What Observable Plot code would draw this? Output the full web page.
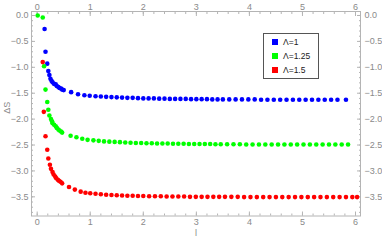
<!DOCTYPE html>
<html><head><meta charset="utf-8">
<script src="https://cdn.jsdelivr.net/npm/d3@7"></script>
<script src="https://cdn.jsdelivr.net/npm/@observablehq/plot@0.6"></script>
<style>
body{margin:0;background:#fff;}
#wrap{position:relative;width:382px;height:241px;}
#legend{position:absolute;left:263px;top:33px;width:56px;height:46px;border:1px solid #555;background:#fff;box-sizing:border-box;font-family:"Liberation Sans",sans-serif;font-size:8.5px;color:#222;}
.sw{position:absolute;left:8px;width:6px;height:6px;}
.lt{position:absolute;left:19px;line-height:10px;white-space:nowrap;}
</style>
</head><body>
<div id="wrap"><div id="legend"></div></div>
<script>
// Series: [l, ΔS]
const lambda1 = [
 [0.14,-0.26],[0.157,-0.70],[0.19,-0.93],[0.21,-1.07],[0.23,-1.15],[0.25,-1.22],[0.27,-1.26],[0.29,-1.29],
 [0.32,-1.32],[0.35,-1.33],[0.37,-1.36],[0.40,-1.38],[0.42,-1.40],[0.45,-1.41],[0.47,-1.43],[0.50,-1.44],
 [0.64,-1.48],[0.77,-1.52],[0.89,-1.54],[0.99,-1.55],
 [1.10,-1.56],[1.20,-1.565],[1.30,-1.57],[1.40,-1.575],[1.50,-1.58],[1.60,-1.585],[1.70,-1.59],[1.80,-1.59],
 [1.90,-1.595],[2.00,-1.60],[2.10,-1.60],[2.20,-1.60],[2.30,-1.605],[2.40,-1.605],[2.50,-1.61],[2.60,-1.61],
 [2.70,-1.61],[2.80,-1.61],[2.90,-1.615],[3.00,-1.615],[3.10,-1.615],[3.20,-1.615],[3.30,-1.62],[3.40,-1.62],
 [3.50,-1.62],[3.62,-1.62],[3.74,-1.62],[3.86,-1.62],[3.98,-1.62],[4.10,-1.62],[4.22,-1.625],[4.34,-1.625],
 [4.46,-1.625],[4.58,-1.625],[4.70,-1.625],[4.82,-1.625],[4.94,-1.625],[5.06,-1.625],[5.18,-1.625],[5.30,-1.625],
 [5.42,-1.625],[5.54,-1.625],[5.66,-1.625],[5.82,-1.625]
];
const lambda125 = [
 [0.01,0.0],[0.105,-0.04],[0.13,-0.98],[0.157,-1.43],[0.19,-1.67],[0.21,-1.82],[0.23,-1.93],[0.26,-2.00],
 [0.28,-2.04],[0.29,-2.08],[0.32,-2.11],[0.35,-2.14],[0.37,-2.17],[0.40,-2.20],[0.42,-2.22],[0.45,-2.24],
 [0.47,-2.26],[0.63,-2.32],[0.74,-2.35],[0.85,-2.38],[0.95,-2.40],
 [1.06,-2.41],[1.16,-2.42],[1.26,-2.43],[1.36,-2.435],[1.46,-2.44],[1.56,-2.445],[1.66,-2.45],[1.76,-2.455],
 [1.86,-2.46],[1.96,-2.46],[2.06,-2.465],[2.16,-2.465],[2.26,-2.47],[2.36,-2.47],[2.46,-2.47],[2.56,-2.475],
 [2.66,-2.475],[2.76,-2.475],[2.86,-2.48],[2.96,-2.48],[3.06,-2.48],[3.16,-2.48],[3.26,-2.48],[3.36,-2.485],
 [3.46,-2.485],[3.58,-2.485],[3.70,-2.485],[3.82,-2.485],[3.94,-2.49],[4.06,-2.49],[4.18,-2.49],[4.30,-2.49],
 [4.42,-2.49],[4.54,-2.49],[4.66,-2.49],[4.78,-2.49],[4.90,-2.49],[5.02,-2.49],[5.14,-2.49],[5.26,-2.49],
 [5.38,-2.49],[5.50,-2.49],[5.62,-2.49],[5.74,-2.49],[5.86,-2.49]
];
const lambda15 = [
 [0.105,-0.90],[0.125,-1.86],[0.157,-2.33],[0.19,-2.59],[0.21,-2.76],[0.24,-2.88],[0.26,-2.96],[0.29,-3.02],
 [0.31,-3.07],[0.34,-3.11],[0.36,-3.14],[0.39,-3.17],[0.41,-3.19],[0.44,-3.21],[0.47,-3.24],[0.60,-3.31],
 [0.71,-3.36],[0.82,-3.40],[0.91,-3.42],[1.00,-3.43],
 [1.10,-3.44],[1.20,-3.45],[1.30,-3.46],[1.40,-3.465],[1.50,-3.47],[1.60,-3.475],[1.70,-3.48],[1.80,-3.48],
 [1.90,-3.485],[2.00,-3.485],[2.11,-3.49],[2.22,-3.49],[2.33,-3.49],[2.44,-3.495],[2.55,-3.495],[2.66,-3.495],
 [2.77,-3.495],[2.88,-3.50],[2.99,-3.50],[3.10,-3.50],[3.21,-3.50],[3.32,-3.50],[3.43,-3.50],[3.54,-3.50],
 [3.66,-3.50],[3.78,-3.50],[3.90,-3.505],[4.02,-3.505],[4.14,-3.505],[4.26,-3.505],[4.38,-3.505],[4.50,-3.505],
 [4.62,-3.505],[4.74,-3.505],[4.86,-3.505],[4.98,-3.505],[5.10,-3.505],[5.22,-3.505],[5.34,-3.505],[5.46,-3.505],
 [5.58,-3.505],[5.70,-3.505],[5.82,-3.505],[5.94,-3.505],[6.03,-3.505]
];
const seriesLabels = ["Λ=1", "Λ=1.25", "Λ=1.5"];
const seriesColors = ["#0000ff", "#00ff00", "#ff0000"];
const xTicks = [0, 1, 2, 3, 4, 5, 6];
const yTicks = [0, -0.5, -1, -1.5, -2, -2.5, -3, -3.5];
const xMinor = d3.range(0, 31).map(i => i / 5);
const yMinor = d3.range(0, 39).map(i => -i / 10);

const fmtY = d => (d < 0 ? "−" : "") + Math.abs(d).toFixed(1);
const frameColor = "#b4b4b4";
const textColor = "#8a8a8a";
const series = [lambda1, lambda125, lambda15];

const chart = Plot.plot({
  width: 382, height: 241,
  marginLeft: 31, marginRight: 22, marginTop: 11, marginBottom: 25.5,
  x: {domain: [-0.107, 6.094]},
  y: {domain: [-3.87, 0.077]},
  style: {fontFamily: "Liberation Sans, sans-serif", fontSize: "9px", background: "white", overflow: "visible"},
  marks: [
    Plot.frame({stroke: frameColor}),
    Plot.axisX(xMinor, {anchor: "bottom", tickSize: -2, tickFormat: () => "", stroke: frameColor, label: null}),
    Plot.axisX(xMinor, {anchor: "top", tickSize: -2, tickFormat: () => "", stroke: frameColor, label: null}),
    Plot.axisY(yMinor, {anchor: "left", tickSize: -2, tickFormat: () => "", stroke: frameColor, label: null}),
    Plot.axisY(yMinor, {anchor: "right", tickSize: -2, tickFormat: () => "", stroke: frameColor, label: null}),
    Plot.axisX(xTicks, {anchor: "bottom", tickSize: -4, tickPadding: 7, stroke: frameColor, fill: textColor, label: null, tickFormat: d => String(d)}),
    Plot.axisX(xTicks, {anchor: "top", tickSize: -4, tickPadding: 6, stroke: frameColor, fill: textColor, label: null, tickFormat: d => String(d)}),
    Plot.axisY(yTicks, {anchor: "left", tickSize: -4, tickPadding: 7, stroke: frameColor, fill: textColor, label: null, tickFormat: fmtY}),
    Plot.axisY(yTicks, {anchor: "right", tickSize: -4, tickPadding: 8, stroke: frameColor, fill: textColor, label: null, tickFormat: fmtY}),
    Plot.text(["l"], {frameAnchor: "bottom", dy: 20, text: d => d, fill: textColor, fontSize: 9}),
    Plot.text(["ΔS"], {frameAnchor: "left", dx: -24, rotate: -90, text: d => d, fill: textColor, fontSize: 9}),
    ...series.map((s, i) => Plot.dot(s, {x: d => d[0], y: d => d[1], r: 2.3, fill: seriesColors[i], stroke: null}))
  ]
});
document.getElementById("wrap").prepend(chart);

const leg = document.getElementById("legend");
seriesLabels.forEach((lab, i) => {
  const cy = 9 + i * 14;
  const sw = document.createElement("div");
  sw.className = "sw"; sw.style.top = (cy - 4) + "px"; sw.style.background = seriesColors[i];
  const t = document.createElement("div");
  t.className = "lt"; t.style.top = (cy - 6) + "px"; t.textContent = lab;
  leg.append(sw, t);
});
</script>
</body></html>
